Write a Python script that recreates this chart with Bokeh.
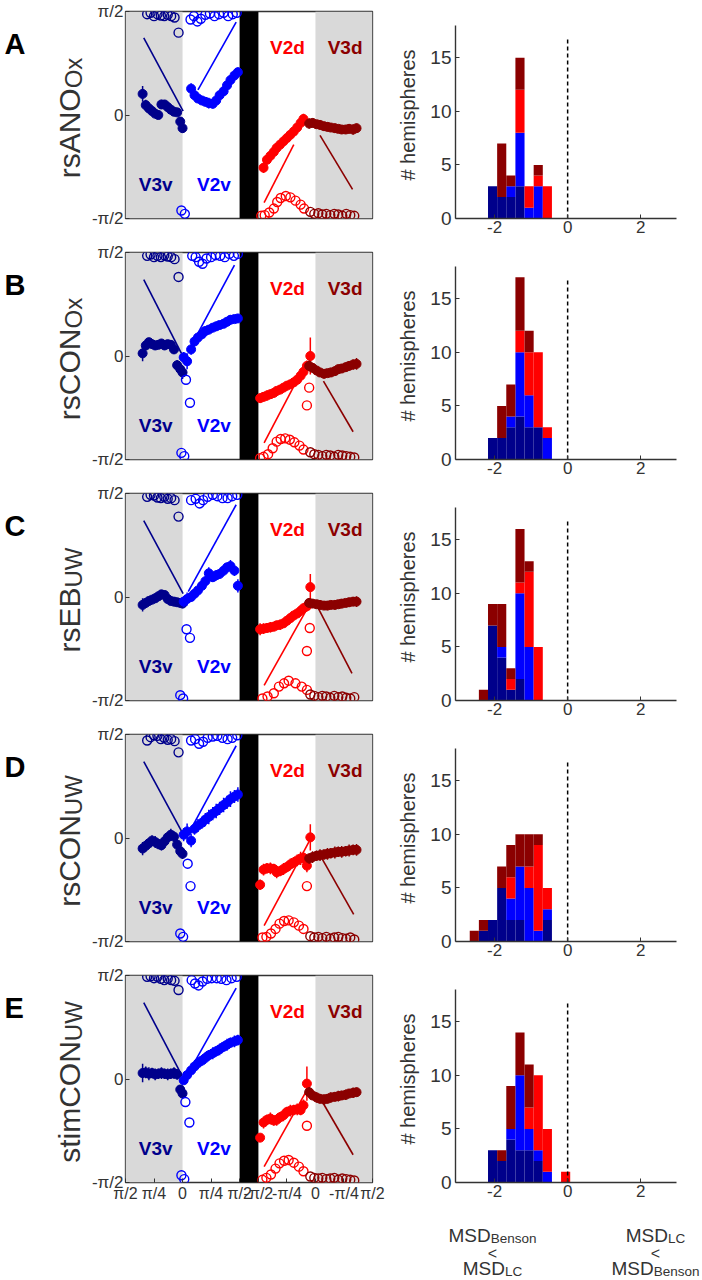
import math
from bokeh.plotting import figure
from bokeh.layouts import column, row
from bokeh.models import Range1d, FixedTicker, CustomJSTickFormatter, Label, ColumnDataSource
from bokeh.embed import file_html
from bokeh.resources import INLINE

NaN = float("nan")
H = math.pi / 2

# ---------------- labels / categories ----------------
PANELS = ["A", "B", "C", "D", "E"]
PANEL_NAMES = {"A": ("rsANO", "Ox"), "B": ("rsCON", "Ox"), "C": ("rsEB", "UW"),
               "D": ("rsCON", "UW"), "E": ("stimCON", "UW")}
AREAS = ["V3v", "V2v", "V2d", "V3d"]
AREA_COLORS = ["#00008B", "#0000FF", "#FF0000", "#8B0000"]

# angle-plot x axis (quadrant units: V3v 0-1, V2v 1-2, gap 2-2.33, V2d 2.33-3.33, V3d 3.33-4.33)
X_TICKS = [0, 0.5, 1, 1.5, 2, 2.33, 2.83, 3.33, 3.83, 4.33]
X_TICK_LABELS = ["π/2", "π/4", "0", "π/4", "π/2", "-π/2", "-π/4", "0", "-π/4", "π/2"]
Y_TICKS = [-H, 0, H]
Y_TICK_LABELS = ["-π/2", "0", "π/2"]

# ---------------- mean phase per area (filled dots) ----------------
V3V_POS = [0.30, 0.355, 0.41, 0.465, 0.52, 0.575, 0.63, 0.685, 0.74, 0.795, 0.85, 0.905, 0.96, 1.0]
V2V_POS = [1.02, 1.08, 1.15, 1.21, 1.27, 1.34, 1.40, 1.46, 1.53, 1.59, 1.65, 1.72, 1.78, 1.84, 1.91, 1.97]
V2D_POS = [2.36, 2.42, 2.48, 2.54, 2.60, 2.65, 2.71, 2.77, 2.83, 2.89, 2.95, 3.01, 3.07, 3.12, 3.18, 3.24]
V3D_POS = [3.22, 3.28, 3.35, 3.41, 3.48, 3.54, 3.60, 3.67, 3.73, 3.79, 3.86, 3.92, 3.99, 4.05]

V3V_MEAN = {
    "A": [0.32, 0.15, 0.10, 0.06, 0.02, 0.00, 0.16, 0.16, 0.12, 0.08, 0.05, 0.04, -0.10, -0.20],
    "B": [0.04, 0.16, 0.21, 0.18, 0.16, 0.17, 0.19, 0.16, 0.18, 0.17, 0.10, -0.14, -0.20, -0.25],
    "C": [-0.12, -0.09, -0.06, -0.04, -0.02, 0.01, 0.04, 0.03, -0.03, -0.06, -0.07, -0.08, -0.09, -0.10],
    "D": [-0.16, -0.12, -0.08, -0.04, -0.06, -0.09, -0.11, -0.05, 0.01, 0.05, 0.02, -0.10, -0.20, -0.24],
    "E": [0.09, 0.10, 0.08, 0.09, 0.07, 0.08, 0.09, 0.08, 0.07, 0.08, 0.09, 0.07, -0.16, -0.22],
}
V2V_MEAN = {
    "A": [NaN, NaN, 0.40, 0.30, 0.25, 0.22, 0.20, 0.18, 0.17, 0.22, 0.30, 0.36, 0.45, 0.53, 0.60, 0.65],
    "B": [-0.02, -0.08, 0.10, 0.22, 0.28, 0.33, 0.38, 0.40, 0.43, 0.45, 0.47, 0.49, 0.52, 0.55, 0.56, 0.57],
    "C": [-0.07, -0.03, 0.00, 0.05, 0.10, 0.17, 0.24, 0.36, 0.30, 0.33, 0.35, 0.40, 0.45, 0.47, 0.40, 0.17],
    "D": [0.05, 0.10, -0.04, 0.14, 0.19, 0.23, 0.28, 0.32, 0.37, 0.41, 0.45, 0.50, 0.54, 0.59, 0.63, 0.66],
    "E": [-0.02, 0.06, 0.13, 0.19, 0.24, 0.28, 0.32, 0.36, 0.39, 0.42, 0.45, 0.49, 0.52, 0.55, 0.57, 0.59],
}
V2D_MEAN = {
    "A": [NaN, -0.80, -0.68, -0.62, -0.56, -0.50, -0.45, -0.40, -0.35, -0.30, -0.25, -0.19, -0.12, -0.06, NaN, NaN],
    "B": [-0.64, -0.62, -0.60, -0.58, -0.56, -0.53, -0.51, -0.48, -0.45, -0.43, -0.40, -0.36, -0.30, -0.24, -0.15, 0.00],
    "C": [-0.49, -0.48, -0.47, -0.46, -0.45, -0.43, -0.42, -0.40, -0.36, -0.32, -0.28, -0.25, -0.21, -0.17, -0.14, 0.15],
    "D": [-0.71, -0.48, -0.46, -0.46, -0.47, -0.52, -0.50, -0.47, -0.44, -0.40, -0.37, -0.34, -0.31, -0.30, -0.42, 0.01],
    "E": [-0.89, -0.66, -0.62, -0.60, -0.63, -0.62, -0.58, -0.55, -0.50, -0.48, -0.47, -0.46, -0.47, -0.40, -0.07, NaN],
}
V3D_MEAN = {
    "A": [-0.13, -0.12, -0.14, -0.15, -0.17, -0.18, -0.19, -0.20, -0.21, -0.22, -0.22, -0.21, -0.22, -0.20],
    "B": [-0.15, -0.18, -0.22, -0.25, -0.27, -0.26, -0.25, -0.23, -0.20, -0.19, -0.17, -0.15, -0.13, -0.12],
    "C": [-0.09, -0.10, -0.11, -0.12, -0.13, -0.13, -0.12, -0.12, -0.11, -0.10, -0.09, -0.08, -0.07, -0.07],
    "D": [-0.31, -0.29, -0.27, -0.26, -0.25, -0.24, -0.23, -0.22, -0.21, -0.21, -0.20, -0.19, -0.18, -0.18],
    "E": [-0.20, -0.25, -0.28, -0.30, -0.31, -0.30, -0.28, -0.27, -0.26, -0.25, -0.24, -0.22, -0.21, -0.20],
}

# error bar half-lengths
V3V_ERR = {
    "A": [0.12, 0.08, 0.07, 0.07, 0.06, 0.06, 0.07, 0.06, 0.06, 0.05, 0.05, 0.05, 0.07, 0.07],
    "B": [0.12, 0.07, 0.06, 0.06, 0.07, 0.06, 0.06, 0.07, 0.06, 0.06, 0.07, 0.08, 0.08, 0.10],
    "C": [0.10, 0.07, 0.06, 0.06, 0.07, 0.06, 0.06, 0.07, 0.06, 0.06, 0.07, 0.06, 0.06, 0.07],
    "D": [0.10, 0.09, 0.08, 0.08, 0.09, 0.08, 0.08, 0.09, 0.08, 0.09, 0.08, 0.08, 0.07, 0.08],
    "E": [0.14, 0.09, 0.10, 0.08, 0.09, 0.08, 0.09, 0.08, 0.09, 0.08, 0.09, 0.08, 0.07, 0.08],
}
V2V_ERR = {
    "A": [NaN, NaN, 0.08, 0.07, 0.06, 0.07, 0.06, 0.08, 0.07, 0.06, 0.07, 0.07, 0.08, 0.07, 0.08, 0.07],
    "B": [0.08, 0.12, 0.08, 0.07, 0.06, 0.07, 0.06, 0.07, 0.06, 0.07, 0.06, 0.07, 0.06, 0.07, 0.06, 0.06],
    "C": [0.08, 0.10, 0.07, 0.07, 0.08, 0.07, 0.08, 0.09, 0.07, 0.08, 0.07, 0.08, 0.07, 0.09, 0.08, 0.10],
    "D": [0.10, 0.12, 0.10, 0.09, 0.10, 0.09, 0.10, 0.11, 0.10, 0.11, 0.10, 0.11, 0.10, 0.12, 0.10, 0.11],
    "E": [0.06, 0.08, 0.07, 0.08, 0.09, 0.08, 0.09, 0.08, 0.09, 0.08, 0.09, 0.08, 0.09, 0.08, 0.09, 0.08],
}
V2D_ERR = {
    "A": [NaN, 0.08, 0.07, 0.07, 0.06, 0.07, 0.06, 0.07, 0.06, 0.07, 0.06, 0.07, 0.06, 0.08, NaN, NaN],
    "B": [0.07, 0.07, 0.08, 0.07, 0.07, 0.06, 0.07, 0.06, 0.07, 0.06, 0.07, 0.06, 0.07, 0.08, 0.08, 0.28],
    "C": [0.09, 0.08, 0.07, 0.08, 0.07, 0.07, 0.08, 0.07, 0.07, 0.06, 0.07, 0.06, 0.07, 0.07, 0.08, 0.20],
    "D": [0.08, 0.09, 0.08, 0.09, 0.08, 0.09, 0.08, 0.09, 0.08, 0.09, 0.08, 0.09, 0.10, 0.09, 0.10, 0.20],
    "E": [0.06, 0.09, 0.08, 0.09, 0.08, 0.09, 0.08, 0.09, 0.08, 0.09, 0.08, 0.09, 0.08, 0.09, 0.26, NaN],
}
V3D_ERR = {
    "A": [0.08, 0.07, 0.06, 0.07, 0.06, 0.07, 0.06, 0.07, 0.06, 0.07, 0.06, 0.07, 0.08, 0.07],
    "B": [0.08, 0.07, 0.07, 0.06, 0.07, 0.06, 0.07, 0.06, 0.07, 0.06, 0.07, 0.07, 0.08, 0.09],
    "C": [0.07, 0.06, 0.06, 0.07, 0.06, 0.07, 0.06, 0.07, 0.06, 0.07, 0.06, 0.07, 0.07, 0.08],
    "D": [0.08, 0.09, 0.08, 0.09, 0.08, 0.09, 0.08, 0.09, 0.08, 0.09, 0.08, 0.09, 0.08, 0.09],
    "E": [0.08, 0.07, 0.08, 0.07, 0.08, 0.07, 0.08, 0.07, 0.08, 0.07, 0.08, 0.07, 0.08, 0.07],
}

# ---------------- open circles ----------------
V3V_OPEN_POS = [0.38, 0.44, 0.50, 0.56, 0.62, 0.68, 0.74, 0.80, 0.86, 0.93]
V3V_OPEN = {
    "A": [1.53, 1.55, 1.50, 1.53, 1.51, 1.50, 1.52, 1.50, 1.48, 1.25],
    "B": [1.52, 1.54, 1.50, 1.52, 1.50, 1.53, 1.51, 1.50, 1.47, 1.20],
    "C": [1.52, 1.55, 1.54, 1.51, 1.50, 1.52, 1.49, 1.50, 1.47, 1.22],
    "D": [1.48, 1.53, 1.56, 1.55, 1.50, 1.52, 1.49, 1.50, 1.47, 1.30],
    "E": [1.55, 1.56, 1.53, 1.55, 1.52, 1.50, 1.52, 1.50, 1.49, 1.35],
}
V2V_OPEN_POS = {
    "A": [0.98, 1.04, 1.14, 1.20, 1.26, 1.32, 1.40, 1.48, 1.56, 1.64, 1.72, 1.80, 1.88, 1.95],
    "B": [0.98, 1.03, 1.06, 1.13, 1.17, 1.23, 1.29, 1.35, 1.42, 1.50, 1.58, 1.66, 1.74, 1.82, 1.90, 1.97],
    "C": [0.96, 1.01, 1.07, 1.13, 1.15, 1.23, 1.30, 1.36, 1.44, 1.53, 1.61, 1.70, 1.79, 1.87, 1.96],
    "D": [0.96, 1.01, 1.09, 1.14, 1.15, 1.22, 1.29, 1.36, 1.44, 1.53, 1.61, 1.70, 1.79, 1.87, 1.96],
    "E": [0.98, 1.03, 1.05, 1.12, 1.16, 1.22, 1.28, 1.35, 1.43, 1.51, 1.60, 1.68, 1.77, 1.86, 1.95],
}
V2V_OPEN = {
    "A": [-1.45, -1.50, 1.45, 1.50, 1.42, 1.46, 1.52, 1.54, 1.50, 1.53, 1.55, 1.50, 1.53, 1.55],
    "B": [-1.47, -1.52, -0.36, -0.71, 1.52, 1.50, 1.43, 1.40, 1.48, 1.50, 1.53, 1.52, 1.50, 1.55, 1.52, 1.55],
    "C": [-1.49, -1.54, -0.49, -0.62, 1.47, 1.49, 1.42, 1.47, 1.52, 1.55, 1.53, 1.50, 1.50, 1.53, 1.55],
    "D": [-1.45, -1.50, -0.39, -0.73, 1.48, 1.50, 1.43, 1.46, 1.52, 1.54, 1.55, 1.52, 1.50, 1.52, 1.56],
    "E": [-1.46, -1.52, -0.35, -0.66, 1.50, 1.45, 1.42, 1.48, 1.52, 1.53, 1.53, 1.52, 1.50, 1.53, 1.55],
}
V2D_OPEN_POS = {
    "A": [2.38, 2.44, 2.52, 2.60, 2.66, 2.72, 2.81, 2.89, 2.98, 3.07, 3.13],
    "B": [2.36, 2.42, 2.50, 2.58, 2.65, 2.72, 2.80, 2.88, 2.96, 3.05, 3.12, 3.18, 3.22],
    "C": [2.40, 2.49, 2.60, 2.69, 2.78, 2.86, 2.98, 3.09, 3.18, 3.18, 3.23],
    "D": [2.40, 2.47, 2.55, 2.63, 2.70, 2.78, 2.86, 2.95, 3.04, 3.12, 3.18],
    "E": [2.40, 2.47, 2.55, 2.63, 2.70, 2.78, 2.86, 2.95, 3.04, 3.12, 3.18],
}
V2D_OPEN = {
    "A": [-1.53, -1.52, -1.48, -1.42, -1.32, -1.26, -1.23, -1.25, -1.30, -1.36, -1.42],
    "B": [-1.55, -1.53, -1.49, -1.40, -1.30, -1.26, -1.25, -1.27, -1.31, -1.36, -1.42, -0.75, -0.48],
    "C": [-1.54, -1.51, -1.46, -1.36, -1.31, -1.27, -1.31, -1.36, -1.41, -0.82, -0.47],
    "D": [-1.51, -1.50, -1.45, -1.38, -1.30, -1.26, -1.25, -1.28, -1.33, -1.38, -0.73],
    "E": [-1.53, -1.50, -1.45, -1.36, -1.28, -1.24, -1.23, -1.27, -1.33, -1.40, -0.71],
}
V3D_OPEN_POS = [3.24, 3.31, 3.38, 3.45, 3.52, 3.59, 3.66, 3.73, 3.80, 3.87, 3.94, 4.01]
V3D_OPEN = {
    "A": [-1.47, -1.50, -1.49, -1.51, -1.50, -1.52, -1.50, -1.51, -1.53, -1.50, -1.52, -1.53],
    "B": [-1.46, -1.49, -1.50, -1.52, -1.50, -1.51, -1.53, -1.50, -1.51, -1.52, -1.53, -1.54],
    "C": [-1.48, -1.50, -1.52, -1.50, -1.51, -1.53, -1.50, -1.52, -1.51, -1.53, -1.54, -1.52],
    "D": [-1.49, -1.51, -1.50, -1.52, -1.50, -1.53, -1.51, -1.50, -1.52, -1.53, -1.51, -1.54],
    "E": [-1.48, -1.50, -1.51, -1.50, -1.52, -1.51, -1.50, -1.53, -1.51, -1.52, -1.53, -1.54],
}

# ---------------- template (fit) lines: ([x0, x1], [y0, y1]) ----------------
FIT_V3V = {"A": ([0.32, 1.01], [1.17, 0.06]), "B": ([0.32, 0.98], [1.16, 0.04]),
           "C": ([0.32, 1.01], [1.16, 0.05]), "D": ([0.32, 1.01], [1.16, 0.06]),
           "E": ([0.32, 0.99], [1.16, 0.05])}
FIT_V2V = {"A": ([1.27, 1.94], [0.38, 1.41]), "B": ([1.13, 1.91], [0.12, 1.38]),
           "C": ([1.10, 1.94], [0.08, 1.40]), "D": ([1.10, 1.94], [0.06, 1.40]),
           "E": ([1.22, 1.94], [0.27, 1.38])}
FIT_V2D = {"A": ([2.43, 2.95], [-1.33, -0.45]), "B": ([2.43, 3.15], [-1.32, -0.13]),
           "C": ([2.43, 3.17], [-1.34, -0.20]), "D": ([2.43, 3.22], [-1.33, -0.05]),
           "E": ([2.43, 3.18], [-1.33, -0.17])}
FIT_V3D = {"A": ([3.41, 3.98], [-0.31, -1.13]), "B": ([3.47, 3.99], [-0.38, -1.15]),
           "C": ([3.36, 3.97], [-0.14, -1.16]), "D": ([3.43, 4.00], [-0.29, -1.16]),
           "E": ([3.42, 3.99], [-0.30, -1.15])}

# ---------------- histograms (counts per bin, stacked) ----------------
BIN_CENTERS = [-2.555, -2.305, -2.055, -1.805, -1.555, -1.305, -1.055, -0.805, -0.555, -0.305, -0.055]
BIN_WIDTH = 0.25
HIST_V3V = {"A": [0, 0, 3, 2, 2, 3, 0, 0, 0, 0, 0], "B": [0, 0, 2, 2, 3, 4, 3, 3, 0, 0, 0],
            "C": [0, 0, 7, 4, 1, 2, 0, 0, 0, 0, 0], "D": [0, 1, 2, 5, 2, 2, 0, 0, 2, 0, 0],
            "E": [0, 0, 3, 2, 4, 3, 3, 2, 0, 0, 0]}
HIST_V2V = {"A": [0, 0, 0, 0, 1, 5, 1, 3, 0, 0, 0], "B": [0, 0, 0, 0, 1, 6, 3, 0, 2, 0, 0],
            "C": [0, 0, 0, 1, 0, 8, 5, 0, 0, 0, 0], "D": [0, 0, 0, 0, 2, 5, 5, 1, 1, 0, 0],
            "E": [0, 0, 0, 0, 1, 7, 2, 1, 1, 0, 0]}
HIST_V2D = {"A": [0, 0, 0, 0, 0, 4, 2, 1, 3, 0, 0], "B": [0, 0, 0, 0, 0, 2, 4, 7, 1, 0, 0],
            "C": [0, 0, 0, 0, 1, 1, 7, 5, 0, 0, 0], "D": [0, 0, 0, 0, 2, 0, 2, 8, 2, 0, 0],
            "E": [0, 0, 0, 0, 0, 0, 2, 7, 4, 0, 1]}
HIST_V3D = {"A": [0, 0, 0, 5, 1, 3, 0, 1, 0, 0, 0], "B": [0, 0, 0, 3, 3, 5, 2, 0, 0, 0, 0],
            "C": [0, 1, 2, 4, 1, 5, 1, 0, 0, 0, 0], "D": [1, 1, 0, 2, 3, 3, 3, 1, 0, 0, 0],
            "E": [0, 0, 0, 1, 4, 4, 4, 0, 0, 0, 0]}
HX_RANGE = (-3.07, 2.98)
HY_MAX = 18
HX_TICKS = [-2, 0, 2]
HX_TICK_LABELS = ["-2", "0", "2"]
HY_TICKS = [0, 5, 10, 15]
HY_TICK_LABELS = ["0", "5", "10", "15"]
ZERO_LINE_TOP = 16.8
MSD_BLOCKS = [(-2.057, [("MSD", "Benson"), ("<", None), ("MSD", "LC")]),
              (2.405, [("MSD", "LC"), ("<", None), ("MSD", "Benson")])]

# ---------------- layout / styling (page has no margin) ----------------
FONT = "Liberation Sans"
TXT = "#333333"
GRAY = "#D9D9D9"
ROW_H = 241
TOP_B, BOT_B = 11, 23
FRAME_H = ROW_H - TOP_B - BOT_B          # 207 px
LAB_W, ANG_W, HIS_W = 88, 298, 314
ANG_LEFT, ANG_RIGHT = 35, 14
HIS_LEFT, HIS_RIGHT = 69, 24
HFRAME_W = HIS_W - HIS_LEFT - HIS_RIGHT  # 221 px
HIST_PX_PER_COUNT = 10.72
MSD_H = 73
MSD_BASELINES = [30, 48, 63]
ARIAL = {'r': 333, 's': 500, 'A': 667, 'N': 722, 'O': 778, 'C': 722, 'E': 667, 'B': 667,
         't': 278, 'i': 222, 'm': 833, 'U': 722, 'W': 944, 'x': 500, 'M': 833, 'S': 667,
         'D': 722, 'e': 556, 'n': 556, 'o': 556, 'L': 556}


def tw(s, size):
    return sum(ARIAL.get(c, 556) for c in s) * size / 1000.0


def fmt(ticks, labels):
    return CustomJSTickFormatter(args=dict(tpos=ticks, tlab=labels), code="""
        let best = 0, bd = Infinity;
        for (let i = 0; i < tpos.length; i++) {
            const d = Math.abs(tpos[i] - tick);
            if (d < bd) { bd = d; best = i; }
        }
        return tlab[best];
    """)


def style_axis(ax, size):
    ax.axis_line_color = None
    ax.major_tick_in = 4
    ax.major_tick_out = 0
    ax.minor_tick_line_color = None
    ax.major_tick_line_color = TXT
    ax.major_label_text_font = FONT
    ax.major_label_text_color = TXT
    ax.major_label_text_font_size = size
    ax.major_label_standoff = 2


def blank_fig(width, height, xr, yr, borders):
    f = figure(width=width, height=height, output_backend="svg", toolbar_location=None,
               x_range=Range1d(*xr), y_range=Range1d(*yr), x_axis_location=None, y_axis_location=None,
               min_border_left=borders[0], min_border_right=borders[1],
               min_border_top=borders[2], min_border_bottom=borders[3])
    f.grid.visible = False
    f.outline_line_color = None
    return f


def label_panel(k, i):
    top = ROW_H * i + TOP_B
    bot = top + FRAME_H
    f = blank_fig(LAB_W, ROW_H, (0, LAB_W), (bot, top), (0, 0, TOP_B, BOT_B))
    f.add_layout(Label(x=4, y=ROW_H * i + 43, text=k, text_font=FONT, text_font_size="29px",
                       text_font_style="bold", text_color="black", text_baseline="alphabetic"))
    main, sub = PANEL_NAMES[k]
    wm, ws = tw(main, 30), tw(sub, 24)
    yj = ROW_H * i + 117.5 - (wm - ws) / 2
    f.add_layout(Label(x=69, y=yj, text=main, angle=math.pi / 2, text_font=FONT, text_font_size="30px",
                       text_color=TXT, text_align="right", text_baseline="alphabetic"))
    f.add_layout(Label(x=69, y=yj, x_offset=4, text=sub, angle=math.pi / 2, text_font=FONT,
                       text_font_size="24px", text_color=TXT, text_align="left", text_baseline="alphabetic"))
    return f


def angle_panel(k, last):
    p = figure(width=ANG_W, height=ROW_H, output_backend="svg", toolbar_location=None,
               x_range=Range1d(X_TICKS[0], X_TICKS[-1]), y_range=Range1d(-H, H),
               x_axis_location="below" if last else None,
               min_border_left=ANG_LEFT, min_border_right=ANG_RIGHT, min_border_top=TOP_B,
               min_border_bottom=BOT_B)
    p.grid.visible = False
    p.outline_line_color = TXT
    p.outline_line_width = 1.3
    p.quad(left=[X_TICKS[0], X_TICKS[7]], right=[X_TICKS[2], X_TICKS[9]], bottom=-H, top=H,
           fill_color=GRAY, line_color=None)
    p.quad(left=[X_TICKS[4]], right=[X_TICKS[5]], bottom=-H, top=H, fill_color="black", line_color=None)

    fits = [FIT_V3V[k], FIT_V2V[k], FIT_V2D[k], FIT_V3D[k]]
    poss = [V3V_POS, V2V_POS, V2D_POS, V3D_POS]
    means = [V3V_MEAN[k], V2V_MEAN[k], V2D_MEAN[k], V3D_MEAN[k]]
    errs = [V3V_ERR[k], V2V_ERR[k], V2D_ERR[k], V3D_ERR[k]]
    opos = [V3V_OPEN_POS, V2V_OPEN_POS[k], V2D_OPEN_POS[k], V3D_OPEN_POS]
    ovals = [V3V_OPEN[k], V2V_OPEN[k], V2D_OPEN[k], V3D_OPEN[k]]
    for c, (fx, fy) in zip(AREA_COLORS, fits):
        p.line(fx, fy, line_color=c, line_width=1.6)
    for c, xs, ys, es in zip(AREA_COLORS, poss, means, errs):
        p.segment(x0=xs, y0=[y - e for y, e in zip(ys, es)], x1=xs, y1=[y + e for y, e in zip(ys, es)],
                  line_color=c, line_width=1.5)
        p.scatter(xs, ys, size=9, fill_color=c, line_color=c)
    for c, xs, ys in zip(AREA_COLORS, opos, ovals):
        p.scatter(xs, ys, size=9, fill_color=None, line_color=c, line_width=1.4)

    style_axis(p.yaxis[0], "17px")
    p.yaxis[0].ticker = FixedTicker(ticks=Y_TICKS)
    p.yaxis[0].formatter = fmt(Y_TICKS, Y_TICK_LABELS)
    if last:
        style_axis(p.xaxis[0], "16px")
        p.xaxis[0].ticker = FixedTicker(ticks=X_TICKS)
        p.xaxis[0].formatter = fmt(X_TICKS, X_TICK_LABELS)

    name_pos = [(0.53, -1.06), (1.55, -1.06), (2.84, 1.03), (3.85, 1.03)]
    for name, c, (x, y) in zip(AREAS, AREA_COLORS, name_pos):
        p.add_layout(Label(x=x, y=y, text=name, text_color=c, text_font=FONT, text_font_size="19px",
                           text_font_style="bold", text_align="center", text_baseline="middle"))
    return p


def hist_panel(k):
    q = figure(width=HIS_W, height=ROW_H, output_backend="svg", toolbar_location=None,
               x_range=Range1d(*HX_RANGE), y_range=Range1d(0, FRAME_H / HIST_PX_PER_COUNT),
               min_border_left=HIS_LEFT, min_border_right=HIS_RIGHT, min_border_top=TOP_B,
               min_border_bottom=BOT_B)
    q.grid.visible = False
    q.outline_line_color = None
    src = ColumnDataSource(dict(x=BIN_CENTERS, V3v=HIST_V3V[k], V2v=HIST_V2V[k], V2d=HIST_V2D[k], V3d=HIST_V3D[k]))
    q.vbar_stack(AREAS, x="x", width=BIN_WIDTH, fill_color=AREA_COLORS, line_color=None, source=src)
    q.segment(x0=[0], y0=[0], x1=[0], y1=[ZERO_LINE_TOP], line_color="black", line_width=1.5, line_dash="4 3")
    for ax, t, lab in ((q.xaxis[0], HX_TICKS, HX_TICK_LABELS), (q.yaxis[0], HY_TICKS, HY_TICK_LABELS)):
        style_axis(ax, "17px")
        ax.axis_line_color = TXT
        ax.axis_line_width = 1.4
        ax.ticker = FixedTicker(ticks=t)
        ax.formatter = fmt(t, lab)
    q.yaxis[0].major_label_text_font_size = "19px"
    q.yaxis[0].major_label_standoff = 4
    q.yaxis[0].bounds = (0, HY_MAX)
    q.yaxis[0].axis_label = "# hemispheres"
    q.yaxis[0].axis_label_text_font = FONT
    q.yaxis[0].axis_label_text_font_size = "20px"
    q.yaxis[0].axis_label_text_font_style = "normal"
    q.yaxis[0].axis_label_text_color = TXT
    q.yaxis[0].axis_label_standoff = 8
    return q


def msd_panel():
    top = ROW_H * len(PANELS)
    width = LAB_W + ANG_W + HIS_W
    f = blank_fig(width, MSD_H, (0, width), (top + MSD_H, top), (0, 0, 0, 0))
    hleft = LAB_W + ANG_W + HIS_LEFT
    ppu = HFRAME_W / (HX_RANGE[1] - HX_RANGE[0])
    for cx, lines in MSD_BLOCKS:
        xp = hleft + (cx - HX_RANGE[0]) * ppu
        for (big, small), b in zip(lines, MSD_BASELINES):
            y = top + b
            if small is None:
                f.add_layout(Label(x=xp, y=y, text=big, text_font=FONT, text_font_size="16px",
                                   text_color=TXT, text_align="center", text_baseline="alphabetic"))
                continue
            wb, wsb = tw(big, 19), tw(small, 13.5)
            x0 = xp - (wb + wsb) / 2
            f.add_layout(Label(x=x0, y=y, text=big, text_font=FONT, text_font_size="19px",
                               text_color=TXT, text_align="left", text_baseline="alphabetic"))
            f.add_layout(Label(x=x0 + wb, y=y + 3, text=small, text_font=FONT, text_font_size="13.5px",
                               text_color=TXT, text_align="left", text_baseline="alphabetic"))
    return f


rows = []
for i, k in enumerate(PANELS):
    last = i == len(PANELS) - 1
    rows.append(row(label_panel(k, i), angle_panel(k, last), hist_panel(k)))
rows.append(msd_panel())
layout = column(*rows)

open("out.html", "w").write(file_html(layout, INLINE, "figure"))
